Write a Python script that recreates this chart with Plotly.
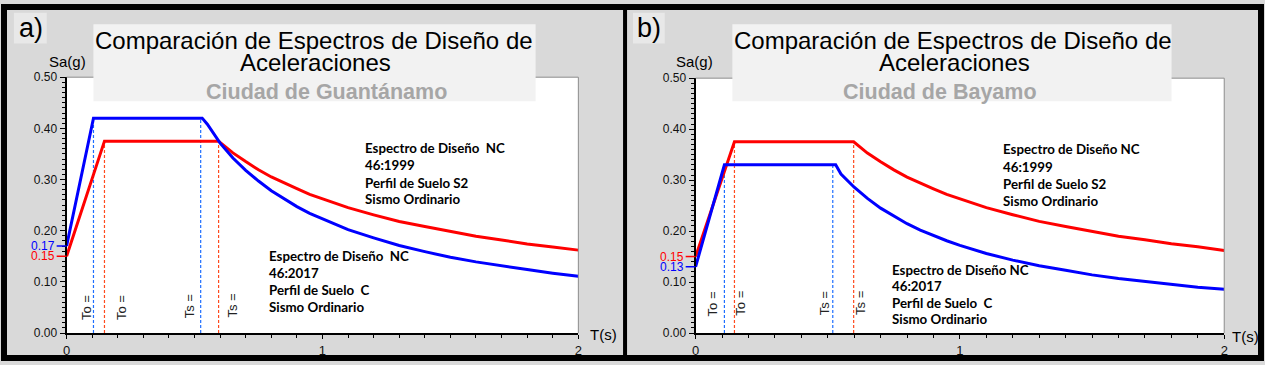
import plotly.graph_objects as go

W, H = 1265, 365

# ---------------- data ----------------
# Panel a) Guantanamo
T_a_blue = [0, 0.105, 0.53, 0.55, 0.60, 0.65, 0.70, 0.75, 0.80, 0.85, 0.90, 0.95, 1.00,
            1.1, 1.2, 1.3, 1.4, 1.5, 1.6, 1.7, 1.8, 1.9, 2.0]
Sa_a_blue = [0.17, 0.42, 0.42, 0.408, 0.371, 0.342, 0.318, 0.297, 0.278, 0.262, 0.247, 0.234, 0.223,
             0.202, 0.186, 0.171, 0.159, 0.148, 0.139, 0.131, 0.124, 0.117, 0.111]
T_a_red = [0, 0.148, 0.594, 0.65, 0.70, 0.75, 0.80, 0.85, 0.90, 0.95, 1.00,
           1.1, 1.2, 1.3, 1.4, 1.5, 1.6, 1.7, 1.8, 1.9, 2.0]
Sa_a_red = [0.15, 0.375, 0.375, 0.352, 0.335, 0.319, 0.305, 0.293, 0.282, 0.271, 0.262,
            0.245, 0.231, 0.218, 0.208, 0.198, 0.189, 0.182, 0.174, 0.168, 0.162]
To_a = [0.105, 0.148]      # blue, red
Ts_a = [0.524, 0.594]

# Panel b) Bayamo
T_b_blue = [0, 0.109, 0.53, 0.55, 0.60, 0.65, 0.70, 0.75, 0.80, 0.85, 0.90, 0.95, 1.00,
            1.1, 1.2, 1.3, 1.4, 1.5, 1.6, 1.7, 1.8, 1.9, 2.0]
Sa_b_blue = [0.13, 0.33, 0.33, 0.312, 0.286, 0.264, 0.245, 0.229, 0.2145, 0.202, 0.191, 0.181, 0.172,
             0.156, 0.143, 0.132, 0.123, 0.114, 0.107, 0.101, 0.095, 0.090, 0.086]
T_b_red = [0, 0.147, 0.598, 0.65, 0.70, 0.75, 0.80, 0.85, 0.90, 0.95, 1.00,
           1.1, 1.2, 1.3, 1.4, 1.5, 1.6, 1.7, 1.8, 1.9, 2.0]
Sa_b_red = [0.15, 0.375, 0.375, 0.353, 0.336, 0.320, 0.306, 0.294, 0.283, 0.272, 0.263,
            0.246, 0.232, 0.219, 0.209, 0.199, 0.190, 0.183, 0.175, 0.169, 0.162]
To_b = [0.109, 0.147]
Ts_b = [0.519, 0.598]

y_ticks = [0, 0.1, 0.2, 0.3, 0.4, 0.5]
x_ticks = [0, 1, 2]
x_ticktext = ["0", "1", "2"]

title1 = "Comparación de Espectros de Diseño de"
title2 = "Aceleraciones"
city_a = "Ciudad de Guantánamo"
city_b = "Ciudad de Bayamo"
note_1999_a = ["Espectro de Diseño  NC", "46:1999", "Perfil de Suelo S2", "Sismo Ordinario"]
note_2017_a = ["Espectro de Diseño  NC", "46:2017", "Perfil de Suelo  C", "Sismo Ordinario"]
note_1999_b = ["Espectro de Diseño NC", "46:1999", "Perfil de Suelo S2", "Sismo Ordinario"]
note_2017_b = ["Espectro de Diseño NC", "46:2017", "Perfil de Suelo  C", "Sismo Ordinario"]

BLUE = "#0000ff"
RED = "#ff0000"
DBLUE = "#1e6eff"
DRED = "#ff4a1e"
ARIAL = "Arial, Liberation Sans, sans-serif"

def px(x):
    return x / W

def py(y):
    return 1 - y / H

fig = go.Figure()

def add_panel(xa, ya, Tb, Sb, Tr, Sr, To, Ts):
    # dashed reference lines (To and Ts), drawn up to each spectrum's plateau
    for k, (t, col) in enumerate(zip(To, [DBLUE, DRED])):
        top = Sb[1] if k == 0 else Sr[1]
        fig.add_trace(go.Scatter(x=[t, t], y=[0, top], mode="lines", xaxis=xa, yaxis=ya,
                                 line=dict(color=col, width=1.2, dash="3px,2px"), showlegend=False,
                                 hoverinfo="skip"))
    for k, (t, col) in enumerate(zip(Ts, [DBLUE, DRED])):
        top = Sb[1] if k == 0 else Sr[1]
        fig.add_trace(go.Scatter(x=[t, t], y=[0, top], mode="lines", xaxis=xa, yaxis=ya,
                                 line=dict(color=col, width=1.2, dash="3px,2px"), showlegend=False,
                                 hoverinfo="skip"))
    fig.add_trace(go.Scatter(x=Tr, y=Sr, mode="lines", xaxis=xa, yaxis=ya,
                             line=dict(color=RED, width=3), showlegend=False))
    fig.add_trace(go.Scatter(x=Tb, y=Sb, mode="lines", xaxis=xa, yaxis=ya,
                             line=dict(color=BLUE, width=3), showlegend=False))

add_panel("x", "y", T_a_blue, Sa_a_blue, T_a_red, Sa_a_red, To_a, Ts_a)
add_panel("x2", "y2", T_b_blue, Sa_b_blue, T_b_red, Sa_b_red, To_b, Ts_b)

xcommon = dict(range=[0, 2], tickvals=x_ticks, ticktext=x_ticktext, ticks="outside", ticklen=4,
               tickcolor="black", tickwidth=1, showline=True, linecolor="black", linewidth=2,
               showgrid=False, zeroline=False, fixedrange=True,
               minor=dict(dtick=0.1, tick0=0, ticks="outside", ticklen=3, tickcolor="black"),
               tickfont=dict(family=ARIAL, size=13, color="#111"))
ycommon = dict(range=[0, 0.5], tickvals=y_ticks, tickformat=".2f", ticks="outside", ticklen=5,
               tickcolor="black", tickwidth=1, showline=True, linecolor="black", linewidth=2,
               showgrid=False, zeroline=False, fixedrange=True,
               minor=dict(dtick=0.01, tick0=0, ticks="outside", ticklen=3, tickcolor="black"),
               tickfont=dict(family=ARIAL, size=12, color="#111"))

fig.update_layout(
    width=W, height=H, autosize=False,
    margin=dict(l=0, r=0, t=0, b=0),
    paper_bgcolor="#d9d9d9", plot_bgcolor="white",
    xaxis=dict(domain=[px(63), px(578)], anchor="y", **xcommon),
    yaxis=dict(domain=[py(339), py(73)], anchor="x", **ycommon),
    xaxis2=dict(domain=[px(696), px(1228)], anchor="y2", **xcommon),
    yaxis2=dict(domain=[py(339), py(74)], anchor="x2", **ycommon),
)

shapes = []
annots = []

# frame top/right (gray)
for xr, yr in [("x", "y"), ("x2", "y2")]:
    shapes.append(dict(type="line", xref=f"{xr} domain", yref=f"{yr} domain", x0=0, x1=1, y0=1, y1=1,
                       line=dict(color="#8c8c8c", width=1)))
    shapes.append(dict(type="line", xref=f"{xr} domain", yref=f"{yr} domain", x0=1, x1=1, y0=0, y1=1,
                       line=dict(color="#8c8c8c", width=1)))

# outer black border and divider
shapes.append(dict(type="rect", xref="paper", yref="paper", x0=0, x1=1, y0=0, y1=1,
                   line=dict(color="black", width=6), layer="above"))
shapes.append(dict(type="line", xref="paper", yref="paper", x0=px(625), x1=px(625), y0=0, y1=1,
                   line=dict(color="black", width=4), layer="above"))

# title boxes
for x0, x1 in [(90, 535), (733, 1175)]:
    shapes.append(dict(type="rect", xref="paper", yref="paper", x0=px(x0), x1=px(x1), y0=py(98), y1=py(18),
                       fillcolor="#f2f2f2", line=dict(width=0), layer="above"))
# panel letter boxes
for x0, x1 in [(10, 43), (633, 665)]:
    shapes.append(dict(type="rect", xref="paper", yref="paper", x0=px(x0), x1=px(x1), y0=py(38), y1=py(6),
                       fillcolor="#e8e8e8", line=dict(width=0), layer="above"))

def txt(x, y, s, size, color="black", xanchor="center", bold=False, family=ARIAL):
    annots.append(dict(xref="paper", yref="paper", x=px(x), y=py(y), text=(f"<b>{s}</b>" if bold else s),
                       showarrow=False, xanchor=xanchor, yanchor="middle",
                       font=dict(family=family, size=size, color=color)))

# panel letters
txt(27, 22, "a)", 27)
txt(649, 22, "b)", 27)

# titles
txt(312, 35, title1, 24)
txt(313, 58, title2, 24)
txt(325, 88, city_a, 21.5, color="#a6a6a6", bold=True)
txt(955, 35, title1, 24)
txt(957, 58, title2, 24)
txt(942, 88, city_b, 21.5, color="#a6a6a6", bold=True)

# axis titles
txt(64, 57, "Sa(g)", 15)
txt(603, 341, "T(s)", 15)
txt(695, 57, "Sa(g)", 15)
txt(1249, 343, "T(s)", 15)

# notes
def note(x, ys, lines):
    for yy, s in zip(ys, lines):
        txt(x, yy, s, 13.3, xanchor="left", bold=True, family="Lato, Carlito, sans-serif")

note(361, [146.5, 164, 182.5, 200], note_1999_a)
note(265, [259, 276.5, 294, 312], note_2017_a)
note(1003, [148, 166, 184, 201.5], note_1999_b)
note(892, [273, 290.5, 307.5, 324], note_2017_b)

# vertical To / Ts labels
def vlabel(xa, ya, x, y, s):
    annots.append(dict(xref=xa, yref=ya, x=x, y=y, text=s, textangle=-90, showarrow=False,
                       xanchor="center", yanchor="middle",
                       font=dict(family=ARIAL, size=13, color="#222")))

vlabel("x", "y", 0.078, 0.05, "To =")
vlabel("x", "y", 0.215, 0.05, "To =")
vlabel("x", "y", 0.48, 0.053, "Ts =")
vlabel("x", "y", 0.649, 0.053, "Ts =")
vlabel("x2", "y2", 0.062, 0.058, "To =")
vlabel("x2", "y2", 0.169, 0.058, "To =")
vlabel("x2", "y2", 0.489, 0.058, "Ts =")
vlabel("x2", "y2", 0.624, 0.058, "Ts =")

# colored initial-value labels on y axes
def start_label(ya, axis_px, val, col):
    shapes.append(dict(type="line", xref="paper", yref=ya, x0=px(axis_px - 10), x1=px(axis_px), y0=val, y1=val,
                       line=dict(color=col, width=1.5)))
    annots.append(dict(xref="paper", yref=ya, x=px(axis_px - 10), y=val, text=f"{val:.2f}", showarrow=False,
                       xanchor="right", yanchor="middle", font=dict(family=ARIAL, size=12, color=col)))

start_label("y", 63, Sa_a_blue[0], BLUE)
start_label("y", 63, Sa_a_red[0], RED)
start_label("y2", 696, Sa_b_red[0], RED)
start_label("y2", 696, Sa_b_blue[0], BLUE)

fig.update_layout(shapes=shapes, annotations=annots)
fig.write_html(
    "out.html",
    config={"displayModeBar": False, "staticPlot": True},
    post_script=("document.documentElement.style.margin='0';document.documentElement.style.padding='0';"
                 "document.documentElement.style.overflow='hidden';document.documentElement.style.background='black';"
                 "document.body.style.margin='0';document.body.style.padding='0';"
                 "document.body.style.overflow='hidden';document.body.style.background='black';"),
)
